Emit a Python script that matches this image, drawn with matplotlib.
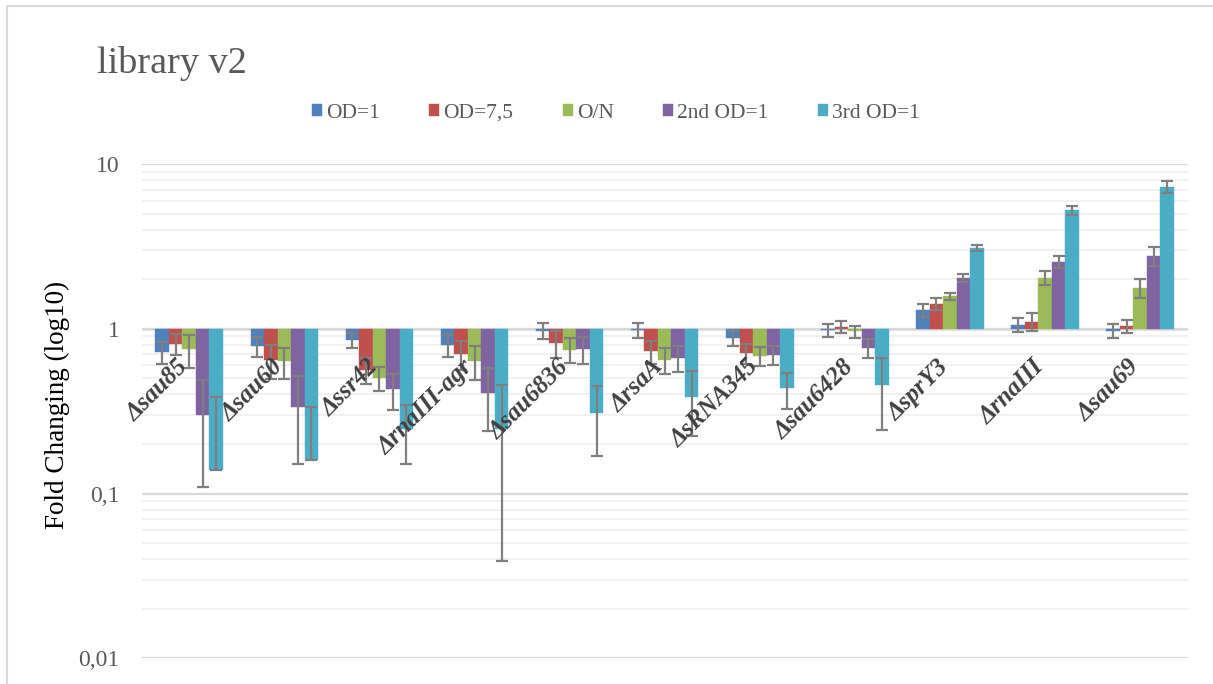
import numpy as np
import matplotlib
matplotlib.use("Agg")
import matplotlib.pyplot as plt
import matplotlib.transforms as mtransforms
from matplotlib.patches import Rectangle
from matplotlib.ticker import FixedLocator, LogLocator, NullFormatter

plt.rcParams['font.family'] = ['Liberation Serif', 'DejaVu Serif']

categories = ["\u0394sau85", "\u0394sau60", "\u0394ssr42", "\u0394rnaIII-agr", "\u0394sau6836",
              "\u0394rsaA", "\u0394sRNA345", "\u0394sau6428", "\u0394sprY3", "\u0394rnaIII", "\u0394sau69"]
series_names = ["OD=1", "OD=7,5", "O/N", "2nd OD=1", "3rd OD=1"]

od1 = [0.725, 0.781, 0.853, 0.796, 0.976, 0.982, 0.873, 0.977, 1.292, 1.057, 0.97]
od1_err = [0.11, 0.108, 0.09, 0.118, 0.11, 0.10, 0.09, 0.09, 0.115, 0.10, 0.095]
od75 = [0.807, 0.645, 0.564, 0.702, 0.814, 0.728, 0.711, 1.03, 1.413, 1.103, 1.038]
od75_err = [0.117, 0.151, 0.10, 0.14, 0.153, 0.113, 0.10, 0.088, 0.12, 0.137, 0.10]
on = [0.749, 0.633, 0.504, 0.64, 0.746, 0.645, 0.683, 0.965, 1.571, 2.04, 1.774]
on_err = [0.17, 0.134, 0.086, 0.148, 0.127, 0.116, 0.09, 0.08, 0.085, 0.2, 0.24]
od1_2nd = [0.30, 0.336, 0.428, 0.41, 0.749, 0.664, 0.695, 0.763, 2.04, 2.55, 2.77]
od1_2nd_err = [0.19, 0.184, 0.107, 0.17, 0.14, 0.12, 0.09, 0.1, 0.11, 0.2, 0.36]
od1_3rd = [0.139, 0.160, 0.248, 0.248, 0.309, 0.388, 0.434, 0.453, 3.09, 5.26, 7.28]
od1_3rd_err = [0.244, 0.173, 0.096, 0.209, 0.14, 0.163, 0.106, 0.21, 0.14, 0.33, 0.58]

y_ticks = [0.01, 0.1, 1, 10]
y_ticklabels = ["0,01", "0,1", "1", "10"]

colors = ["#4F81BD", "#C0504D", "#9BBB59", "#8064A2", "#4BACC6"]
values = [od1, od75, on, od1_2nd, od1_3rd]
errors = [od1_err, od75_err, on_err, od1_2nd_err, od1_3rd_err]

W, H = 1213, 684
fig = plt.figure(figsize=(W / 100, H / 100), dpi=100)
# chart border
fig.patches.append(Rectangle((7 / W, -0.05), 1.2, 1 - 6 / H + 0.05, transform=fig.transFigure,
                             fill=False, edgecolor="#d9d9d9", linewidth=1.5))

ax = fig.add_axes([141.7 / W, 1 - 658.3 / H, (1187.7 - 141.7) / W, (658.3 - 164) / H])
ax.set_yscale("log")
ax.set_ylim(0.01, 10)
ax.set_xlim(-0.5, len(categories) - 0.5)

x = np.arange(len(categories))
bw = 0.142
handles = []
for j, (vals, errs, c, name) in enumerate(zip(values, errors, colors, series_names)):
    v = np.array(vals)
    e = np.array(errs)
    xpos = x + (j - 2) * bw
    b = ax.bar(xpos, v - 1, bottom=1, width=bw, color=c, label=name, zorder=2,
               edgecolor=c, linewidth=0.3)
    handles.append(b)
    low = np.where(e < v, e, 0.0)
    ax.errorbar(xpos, v, yerr=[low, e], fmt="none", ecolor="#7f7f7f", elinewidth=1.6,
                capsize=4.3, capthick=1.6, zorder=3)

# grid
ax.yaxis.set_major_locator(FixedLocator(y_ticks))
ax.set_yticklabels(y_ticklabels)
ax.yaxis.set_minor_locator(LogLocator(base=10, subs=np.arange(2, 10)))
ax.yaxis.set_minor_formatter(NullFormatter())
ax.grid(True, which="major", axis="y", color="#d9d9d9", linewidth=1.6, zorder=0)
ax.grid(True, which="minor", axis="y", color="#f0f0f0", linewidth=1.3, zorder=0)
ax.set_axisbelow(True)
ax.axhline(1, color="#d9d9d9", linewidth=1.8, zorder=1)
for s in ax.spines.values():
    s.set_visible(False)
ax.tick_params(axis="y", which="both", length=0, pad=16, labelsize=17, labelcolor="#595959")
ax.tick_params(axis="x", which="both", length=0, labelbottom=False)

# category labels
for i, cat in enumerate(categories):
    trans = mtransforms.offset_copy(ax.transData, fig=fig, x=0, y=-39, units="dots")
    ax.text(i, 1, cat, transform=trans, rotation=45, rotation_mode="anchor",
            ha="right", va="baseline", fontsize=18, fontweight="bold", fontstyle="italic",
            color="#404040", zorder=4)

# y label
fig.text(57.5 / W, 1 - 405 / H, "Fold Changing (log10)", rotation=90, ha="center", va="center",
         fontsize=19.5, color="black")

# title
fig.text(97 / W, 1 - 73 / H, "library v2", ha="left", va="baseline", fontsize=27.5, color="#595959")

# legend
leg = fig.legend(handles=handles, labels=series_names, loc="center",
                 bbox_to_anchor=(616 / W, 1 - 113 / H), ncol=5, frameon=False,
                 fontsize=15.5, handlelength=0.45, handleheight=0.45, handletextpad=0.2,
                 columnspacing=2.3, labelcolor="#595959")

fig.savefig("out.png", dpi=100)
